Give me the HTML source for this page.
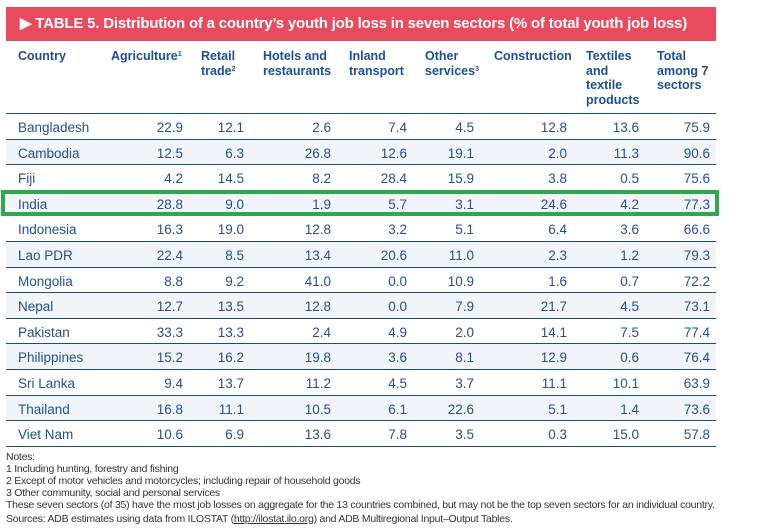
<!DOCTYPE html>
<html><head><meta charset="utf-8"><style>
body{margin:0;width:767px;height:531px;background:#fff;font-family:"Liberation Sans",sans-serif;position:relative;overflow:hidden}
.ban{position:absolute;left:6px;top:7px;width:710px;height:34px;background:#e84b5e;color:#fff;font-weight:bold;font-size:15px;line-height:34px;box-sizing:border-box;padding-left:14px;letter-spacing:-0.2px}
.h{position:absolute;top:49px;color:#1d4f96;font-weight:bold;font-size:12.5px;line-height:14.5px}
.h sup{font-size:7px;vertical-align:4px;line-height:0}
.row{position:absolute;left:6px;width:710px;height:25.6px;border-top:1.3px solid #1d4a80;box-sizing:border-box}
.row span{position:absolute;top:6px;font-size:13.5px;color:#23508f}
.n{text-align:right;width:60px}
.hl{position:absolute;left:1px;top:190px;width:718px;height:26px;border:4px solid #2fa84b;box-sizing:border-box}
.notes{position:absolute;left:6px;top:452px;font-size:10.5px;color:#333;line-height:11.9px;letter-spacing:-0.25px}
</style></head><body>
<div class="ban">▶ TABLE 5. Distribution of a country’s youth job loss in seven sectors (% of total youth job loss)</div>
<div class="h" style="left:18px">Country</div>
<div class="h" style="left:111px">Agriculture<sup>1</sup></div>
<div class="h" style="left:201px">Retail<br>trade<sup>2</sup></div>
<div class="h" style="left:263px">Hotels and<br>restaurants</div>
<div class="h" style="left:349px">Inland<br>transport</div>
<div class="h" style="left:425px">Other<br>services<sup>3</sup></div>
<div class="h" style="left:494px">Construction</div>
<div class="h" style="left:586px">Textiles<br>and<br>textile<br>products</div>
<div class="h" style="left:657px">Total<br>among 7<br>sectors</div>
<div id="t"></div>
<div class="row" style="top:446px;height:2px"></div>
<div class="hl"></div>
<div class="notes">Notes:<br>1 Including hunting, forestry and fishing<br>2 Except of motor vehicles and motorcycles; including repair of household goods<br>3 Other community, social and personal services<br>These seven sectors (of 35) have the most job losses on aggregate for the 13 countries combined, but may not be the top seven sectors for an individual country.<br><div style="margin-top:2px">Sources: ADB estimates using data from ILOSTAT (<u>http://ilostat.ilo.org</u>) and ADB Multiregional Input–Output Tables.</div></div>
<script>
var d=[["Bangladesh","22.9","12.1","2.6","7.4","4.5","12.8","13.6","75.9"],
["Cambodia","12.5","6.3","26.8","12.6","19.1","2.0","11.3","90.6"],
["Fiji","4.2","14.5","8.2","28.4","15.9","3.8","0.5","75.6"],
["India","28.8","9.0","1.9","5.7","3.1","24.6","4.2","77.3"],
["Indonesia","16.3","19.0","12.8","3.2","5.1","6.4","3.6","66.6"],
["Lao PDR","22.4","8.5","13.4","20.6","11.0","2.3","1.2","79.3"],
["Mongolia","8.8","9.2","41.0","0.0","10.9","1.6","0.7","72.2"],
["Nepal","12.7","13.5","12.8","0.0","7.9","21.7","4.5","73.1"],
["Pakistan","33.3","13.3","2.4","4.9","2.0","14.1","7.5","77.4"],
["Philippines","15.2","16.2","19.8","3.6","8.1","12.9","0.6","76.4"],
["Sri Lanka","9.4","13.7","11.2","4.5","3.7","11.1","10.1","63.9"],
["Thailand","16.8","11.1","10.5","6.1","22.6","5.1","1.4","73.6"],
["Viet Nam","10.6","6.9","13.6","7.8","3.5","0.3","15.0","57.8"]];
var r=[183,244,331,407,474,567,639,710],h="";
d.forEach(function(x,i){h+='<div class="row" style="top:'+(113+i*25.6)+'px;background:'+(i%2?'#f1f4f9':'#fff')+'"><span style="left:12px">'+x[0]+'</span>';
for(var j=1;j<9;j++)h+='<span class="n" style="left:'+(r[j-1]-6-60)+'px">'+x[j]+'</span>';h+='</div>';});
document.getElementById('t').innerHTML=h;
</script>
</body></html>
